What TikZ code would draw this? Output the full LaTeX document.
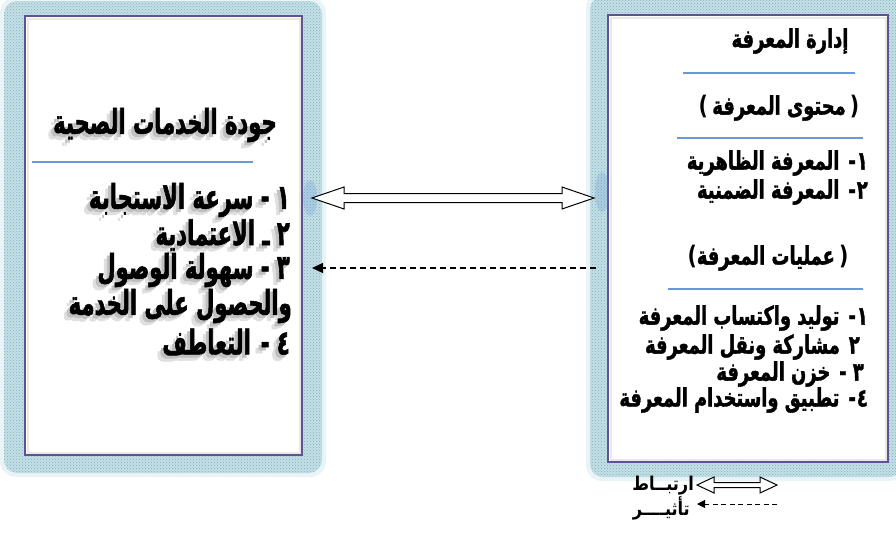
\documentclass[tikz,border=0pt]{standalone}
\usepackage{fontspec}
\usetikzlibrary{calc,patterns,arrows.meta,backgrounds}
\TeXXeTstate=1
\newfontfamily\arabicwide[Script=Arabic, FakeStretch=0.62, BoldFeatures={FakeBold=1.6}]{DejaVu Sans}
\newfontfamily\arabicmid[Script=Arabic, FakeStretch=0.70, BoldFeatures={FakeBold=1.4}]{DejaVu Sans}
\newfontfamily\arabickey[Script=Arabic, FakeStretch=0.85]{DejaVu Sans}
\newfontfamily\parenfont[FakeStretch=0.8]{DejaVu Sans}
\newcommand\rtl[1]{\beginR #1\endR}
\newcommand\opar{{\parenfont(}}
\newcommand\cpar{{\parenfont)}}

\definecolor{framepurple}{RGB}{98,80,148}
\definecolor{matbase}{RGB}{196,224,230}
\definecolor{matdot}{RGB}{128,176,190}
\definecolor{ruleblue}{RGB}{105,152,215}
\definecolor{glowblue}{RGB}{90,140,215}
\definecolor{shadowgray}{RGB}{165,165,165}

\tikzset{
  panel/.style={draw=framepurple, line width=2pt, fill=white, inner sep=0pt, outer sep=0pt},
  rulerline/.style={ruleblue, line width=1.1pt},
  bigtext/.style={font=\arabicwide\bfseries\fontsize{34}{34}\selectfont, inner sep=0pt, anchor=east},
  midtext/.style={font=\arabicmid\bfseries\fontsize{25.5}{25.5}\selectfont, inner sep=0pt, anchor=east},
  keytext/.style={font=\arabickey\bfseries\fontsize{19}{19}\selectfont, inner sep=0pt, anchor=east},
  hollow/.style={draw=black, line width=1pt, fill=white, line join=miter},
  influence/.style={draw=black, line width=1.2pt, dash pattern=on 6pt off 4pt,
    -{Triangle[length=11pt,width=10pt]}},
  keyinfluence/.style={draw=black, line width=1pt, dash pattern=on 5pt off 3.5pt,
    -{Triangle[length=8pt,width=8pt]}},
}

% textured mat around a panel: corners (#1,#2) and (#3,#4)
\newcommand\matframe[4]{%
  \fill[matbase, opacity=.35, rounded corners=16pt] (#1-4,#2-4) rectangle (#3+4,#4+4);
  \fill[matbase, rounded corners=13pt] (#1,#2) rectangle (#3,#4);
  \fill[pattern=crosshatch dots, pattern color=matdot, rounded corners=13pt] (#1,#2) rectangle (#3,#4);
}

% hollow two-headed arrow from #1 to #2: head length, head half width, shaft half width
\newcommand\hollowarrow[5]{%
  \draw[hollow] (#1) -- ($(#1)+(#3,-#4)$) -- ($(#1)+(#3,-#5)$) -- ($(#2)+(-#3,-#5)$)
    -- ($(#2)+(-#3,-#4)$) -- (#2) -- ($(#2)+(-#3,#4)$) -- ($(#2)+(-#3,#5)$)
    -- ($(#1)+(#3,#5)$) -- ($(#1)+(#3,#4)$) -- cycle;}

% text with a soft cast shadow: [anchor]{name}{x}{y}{text}
\newcommand\castnode[5][east]{%
  \node[bigtext, anchor=#1, text=shadowgray!35] (#2-far) at (#3-6,#4+6) {#5};
  \node[bigtext, anchor=#1, text=shadowgray!70] (#2-near) at (#3-3,#4+3) {#5};
  \node[bigtext, anchor=#1] (#2) at (#3,#4) {#5};}

\begin{document}
\begin{tikzpicture}[x=1pt,y=-1pt]
\useasboundingbox (0,0) rectangle (896,533);

% mats
\matframe{4}{1}{322}{473}
\matframe{590}{-4}{902}{477}

% panels
\node[panel, minimum width=277pt, minimum height=439pt] (quality) at (163.5,235.5) {};
\node[panel, minimum width=280pt, minimum height=447pt] (knowledge) at (748,238.5) {};

% faint inner shading
\draw[gray!18, line width=2pt] ($(quality.south west)+(2.5,-2.5)$) rectangle ($(quality.north east)+(-2.5,2.5)$);
\draw[gray!18, line width=2pt] ($(knowledge.south west)+(2.5,-2.5)$) rectangle ($(knowledge.north east)+(-2.5,2.5)$);

% rows of the connectors
\coordinate (rowA) at (450,198);
\coordinate (rowB) at (450,268);

% blue glow where the two-headed arrow meets the frames
\fill[glowblue, opacity=.22] ($(quality.east |- rowA)+(8,0)$) ellipse [x radius=7pt, y radius=18pt];
\fill[glowblue, opacity=.22] ($(knowledge.west |- rowA)+(-6,-6)$) ellipse [x radius=7pt, y radius=20pt];

% left panel: service quality
\castnode[center]{qtitle}{165}{125}{\rtl{جودة الخدمات الصحية}}
\draw[rulerline] (32,162) -- (253,162);
\castnode{q1}{290}{200}{\rtl{١ - سرعة الاستجابة}}
\castnode{q2}{290}{235}{\rtl{٢ ـ الاعتمادية}}
\castnode{q3}{290}{270}{\rtl{٣ - سهولة الوصول}}
\castnode{q3b}{292}{306}{\rtl{والحصول على الخدمة}}
\castnode{q4}{290}{342}{\rtl{٤ -\hspace{10pt}التعاطف}}

% right panel: knowledge management
\node[midtext, anchor=center] (ktitle) at (790,41) {\rtl{إدارة المعرفة}};
\draw[rulerline] (683,73) -- (855,73);
\node[midtext, anchor=center] (kcontent) at (779,108) {\opar\,\rtl{محتوى المعرفة}\,\cpar};
\draw[rulerline] (677,138) -- (863,138);
\node[midtext] (k1) at (868,163) {\rtl{١\kern1pt-\hspace{9pt}المعرفة الظاهرية}};
\node[midtext] (k2) at (868,192) {\rtl{٢\kern1pt-\hspace{9pt}المعرفة الضمنية}};
\node[midtext, anchor=center] (kproc) at (768,258) {\opar\rtl{عمليات المعرفة}\,\cpar};
\draw[rulerline] (668,289) -- (863,289);
\node[midtext] (p1) at (868,318) {\rtl{١\kern1pt-\hspace{9pt}توليد واكتساب المعرفة}};
\node[midtext] (p2) at (860,347) {\rtl{٢\hspace{9pt}مشاركة ونقل المعرفة}};
\node[midtext] (p3) at (864,374) {\rtl{٣ -\hspace{9pt}خزن المعرفة}};
\node[midtext] (p4) at (868,400) {\rtl{٤\kern1pt-\hspace{9pt}تطبيق واستخدام المعرفة}};

% connectors between the panels
\coordinate (relL) at ($(quality.east |- rowA)+(10,0)$);
\coordinate (relR) at ($(knowledge.west |- rowA)+(-14,0)$);
\hollowarrow{relL}{relR}{32}{11}{4.5}
\draw[influence] ($(knowledge.west |- rowB)+(-12,0)$) -- ($(quality.east |- rowB)+(10,0)$);

% key
\coordinate (keyA) at (697,485);
\coordinate (keyB) at (777,485);
\hollowarrow{keyA}{keyB}{17}{8}{2.5}
\node[keytext] (keyrel) at (694,486) {\rtl{ارتبــاط}};
\coordinate (keyC) at (777,504);
\coordinate (keyD) at (697,504);
\draw[keyinfluence] (keyC) -- (keyD);
\node[keytext] (keyinf) at (690,508) {\rtl{تأثيــــر}};
\end{tikzpicture}
\end{document}
